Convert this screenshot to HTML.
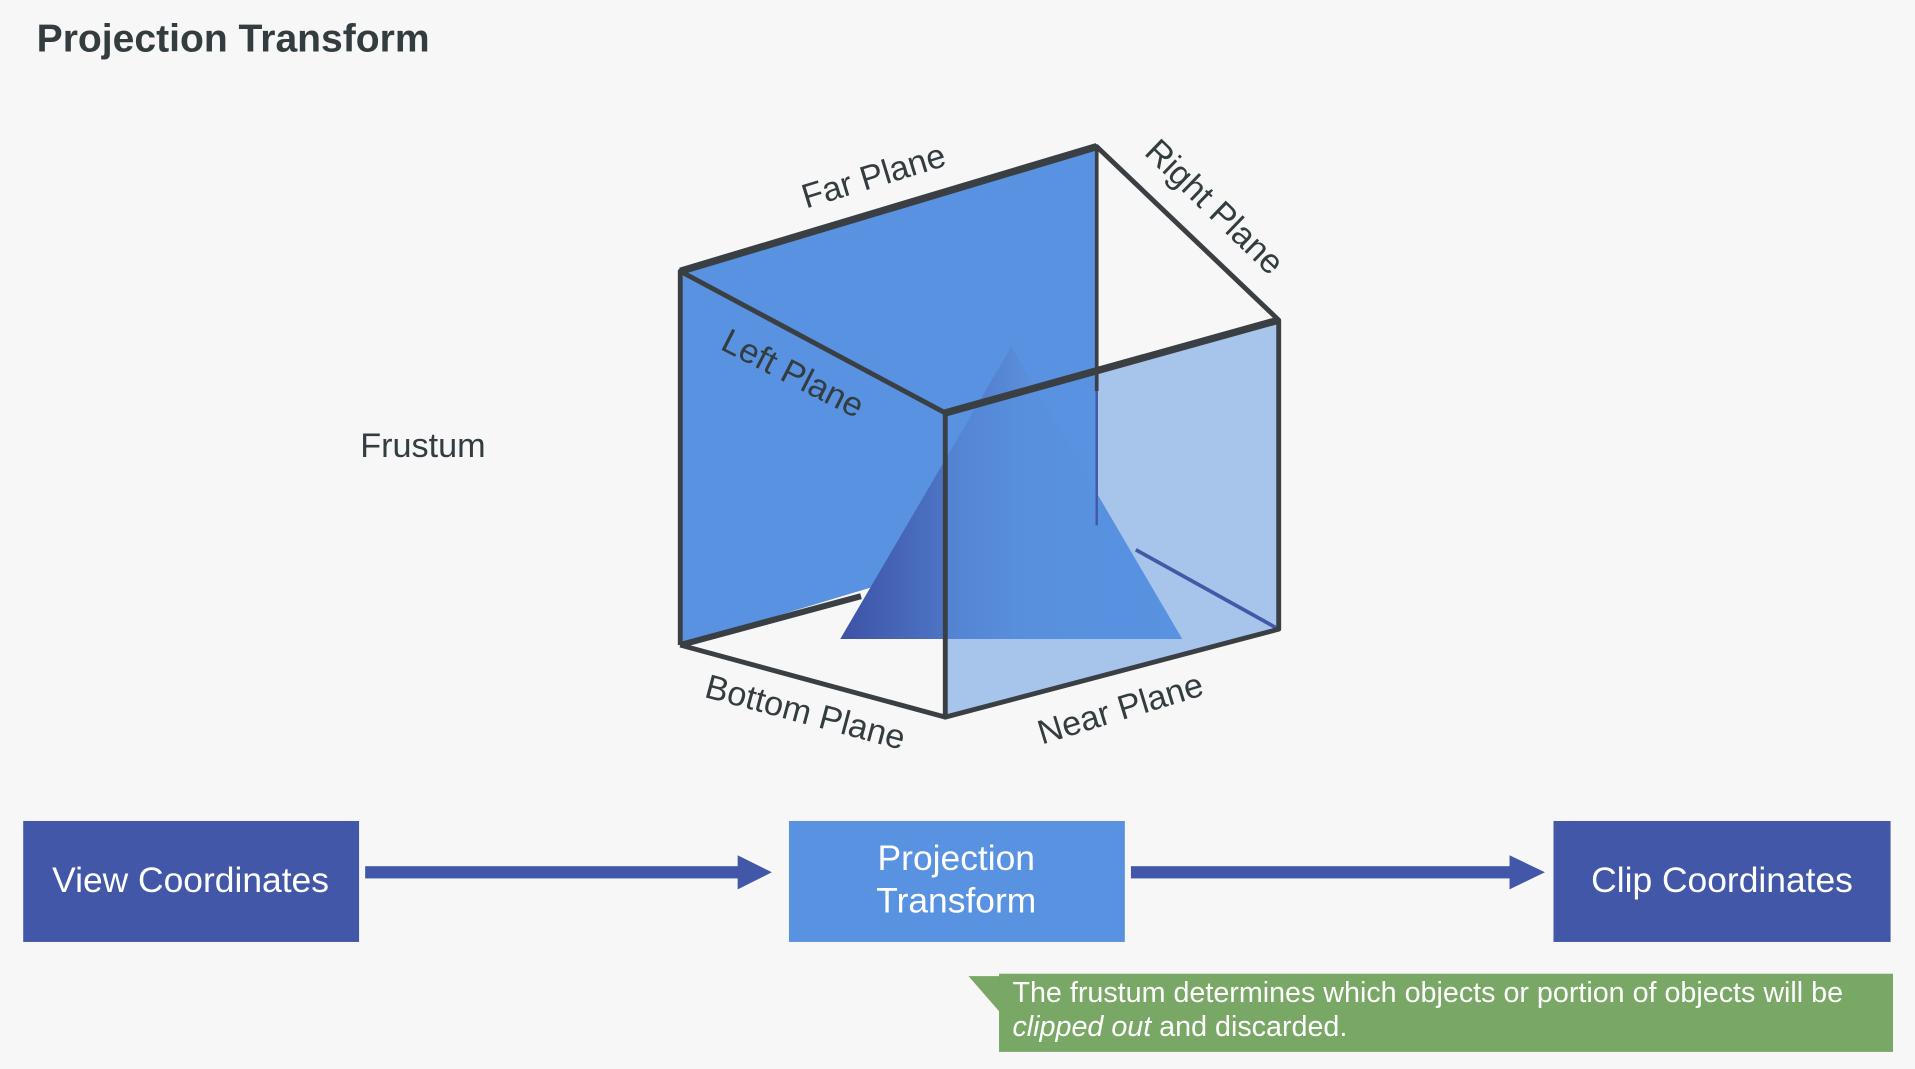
<!DOCTYPE html>
<html><head><style>
html,body{margin:0;padding:0;background:#f7f7f7;}
svg{display:block}
text{font-family:"Liberation Sans",sans-serif;}
</style></head><body>
<svg width="1915" height="1069" viewBox="0 0 1568 875" preserveAspectRatio="none" xmlns="http://www.w3.org/2000/svg">
<defs>
<linearGradient id="tg" x1="0" x2="1" y1="0" y2="0">
<stop offset="0" stop-color="#3d52a6"/><stop offset="0.55" stop-color="#5a8fdc"/><stop offset="1" stop-color="#5892e0"/>
</linearGradient>
</defs>
<rect width="1568" height="875" fill="#f7f7f7"/>
<text x="30" y="42" font-size="32" font-weight="bold" fill="#333d3f">Projection Transform</text>
<text x="295" y="374" font-size="28" fill="#333d3f">Frustum</text>

<polygon points="557,222 898,120 898,425 557,528" fill="#5892e0"/>
<polygon points="828,284 968,523 688,523" fill="url(#tg)"/>
<polygon points="774,338 1047,262 1047,515 774,587" fill="rgba(88,146,224,0.5)"/>

<g stroke="#3a3f44" stroke-width="4" fill="none" stroke-linejoin="round">
<line x1="898" y1="120" x2="898" y2="320" stroke-width="3"/>
<line x1="898" y1="320" x2="898" y2="430" stroke="#4458a8" stroke-width="2"/>
<line x1="930" y1="450" x2="1047" y2="515" stroke="#4458a8" stroke-width="3"/>
<line x1="557" y1="528" x2="705" y2="488" stroke-width="5"/>
<polyline points="557,528 557,222 898,120 1047,262 1047,515 774,587 557,528"/>
<line x1="557" y1="222" x2="774" y2="338"/>
<line x1="557" y1="222" x2="898" y2="120" stroke-width="6"/>
<line x1="774" y1="338" x2="1047" y2="262" stroke-width="6"/>
<line x1="774" y1="338" x2="774" y2="587"/>
</g>

<g font-size="28" fill="#333d3f">
<text transform="translate(718,153) rotate(-17)" text-anchor="middle">Far Plane</text>
<text transform="translate(988,176) rotate(44)" text-anchor="middle">Right Plane</text>
<text transform="translate(645,314) rotate(27)" text-anchor="middle">Left Plane</text>
<text transform="translate(657,592) rotate(15)" text-anchor="middle">Bottom Plane</text>
<text transform="translate(920,589) rotate(-17)" text-anchor="middle">Near Plane</text>
</g>

<rect x="19" y="672" width="275" height="99" fill="#4257a8"/>
<rect x="646" y="672" width="275" height="99" fill="#5892e0"/>
<rect x="1272" y="672" width="276" height="99" fill="#4257a8"/>
<g font-size="29" fill="#ffffff" text-anchor="middle">
<text x="156" y="730">View Coordinates</text>
<text x="783" y="712">Projection</text>
<text x="783" y="747">Transform</text>
<text x="1410" y="730">Clip Coordinates</text>
</g>
<rect x="299" y="709" width="307" height="10" fill="#4257a8"/>
<polygon points="604,700 632,714 604,728" fill="#4257a8"/>
<rect x="926" y="709" width="312" height="10" fill="#4257a8"/>
<polygon points="1236,700 1265,714 1236,728" fill="#4257a8"/>

<polygon points="793,799 820,799 820,830" fill="#79a765"/>
<rect x="818" y="797" width="732" height="64" fill="#79a765"/>
<g font-size="23.5" fill="#ffffff">
<text x="829" y="820">The frustum determines which objects or portion of objects will be</text>
<text x="829" y="848"><tspan font-style="italic">clipped out</tspan> and discarded.</text>
</g>
</svg>
</body></html>
